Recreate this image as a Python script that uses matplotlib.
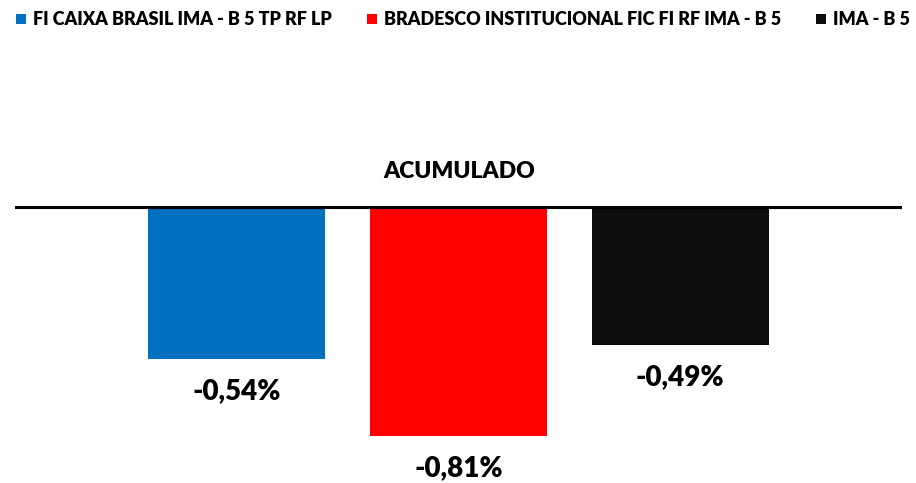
import matplotlib.pyplot as plt
from matplotlib.patches import Rectangle

# ── Data ──────────────────────────────────────────────────────────────
series = [
    "FI CAIXA BRASIL IMA - B 5 TP RF LP",
    "BRADESCO INSTITUCIONAL FIC FI RF IMA - B 5",
    "IMA - B 5",
]
values = [-0.54, -0.81, -0.49]
value_labels = ["-0,54%", "-0,81%", "-0,49%"]
colors = ["#0070C0", "#FF0000", "#0D0D0D"]
title = "ACUMULADO"

plt.rcParams["font.family"] = ["Lato", "DejaVu Sans"]
WEIGHT = "heavy"

W, H = 916, 483
fig = plt.figure(figsize=(W / 100, H / 100), dpi=100)
# axes spans x 15..902 px, y from zero line (206) down
ax = fig.add_axes([15 / W, 0.0, 887 / W, (H - 206) / H])

xs = list(range(len(values)))
ax.bar(xs, values, width=0.8, color=colors, zorder=2)
ax.set_xlim(-1, 3)
ax.set_ylim(-0.975, 0)

for x, v, lbl in zip(xs, values, value_labels):
    ax.annotate(lbl, (x, v), xytext=(0, -40), textcoords="offset pixels",
                ha="center", va="baseline", fontsize=20, fontweight=WEIGHT,
                color="#000000")

ax.axhline(0, color="#000000", lw=4.4, zorder=3, solid_capstyle="butt")
for s in ax.spines.values():
    s.set_visible(False)
ax.set_xticks([])
ax.set_yticks([])

fig.text(459 / W, 1 - 178.5 / H, title, ha="center", va="baseline",
         fontsize=16.5, fontweight=WEIGHT, color="#000000")

# legend row, placed by hand (pixel positions of each entry)
legend_x = [16, 367, 816]
for lx, name, c in zip(legend_x, series, colors):
    fig.patches.append(Rectangle((lx / W, 1 - 23.5 / H), 10 / W, 10 / H,
                                 transform=fig.transFigure,
                                 facecolor=c, edgecolor="none"))
    fig.text((lx + 17) / W, 1 - 25 / H, name, ha="left", va="baseline",
             fontsize=13, fontweight=WEIGHT, color="#000000")

fig.savefig("out.png", dpi=100)
